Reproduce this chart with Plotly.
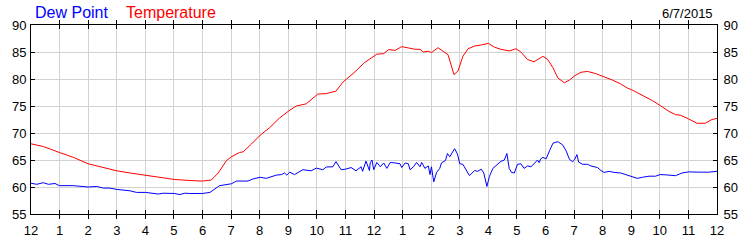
import plotly.graph_objects as go

# Hours after midnight, 6/7/2015
temp_hours = [0.00, 0.43, 0.99, 1.48, 2.00, 2.53, 3.00, 3.46, 4.01, 4.51, 5.01, 5.56, 6.00,
              6.31, 6.55, 6.84, 7.01, 7.30, 7.42, 7.71, 8.02, 8.35, 8.70, 9.02, 9.28, 9.63,
              10.03, 10.33, 10.67, 10.91, 11.00, 11.37, 11.66, 12.00, 12.10, 12.34, 12.51,
              12.74, 12.97, 13.20, 13.44, 13.61, 13.72, 13.90, 14.01, 14.24, 14.42, 14.59,
              14.71, 14.80, 14.94, 15.11, 15.29, 15.52, 15.75, 16.00, 16.21, 16.44, 16.73,
              16.97, 17.14, 17.37, 17.60, 17.91, 18.08, 18.26, 18.43, 18.66, 18.84, 19.01,
              19.24, 19.47, 19.76, 20.02, 20.34, 20.63, 20.87, 21.02, 21.33, 21.74, 22.01,
              22.32, 22.55, 22.72, 23.01, 23.30, 23.59, 23.82, 24.00]
temp_values = [68.0, 67.5, 66.4, 65.5, 64.3, 63.6, 63.0, 62.6, 62.2, 61.7, 61.4, 61.2, 61.1,
               61.3, 62.6, 64.9, 65.6, 66.4, 66.5, 67.95, 69.6, 71.0, 72.8, 74.1, 75.0, 75.4,
               77.2, 77.3, 77.75, 79.4, 79.8, 81.5, 83.0, 84.2, 84.6, 84.7, 85.45,
               85.3, 86.0, 85.75, 85.5, 85.5, 85.0, 85.15, 84.9, 85.8, 85.2, 84.5,
               82.4, 80.8, 81.5, 84.2, 85.6, 86.1, 86.3, 86.6, 85.9, 85.5, 85.2,
               85.6, 85.0, 83.6, 83.2, 84.2, 83.6, 82.1, 80.2, 79.3, 79.8, 80.55,
               81.25, 81.4, 81.0, 80.5, 79.8, 79.1, 78.3, 78.0, 77.2, 76.0, 75.1,
               74.0, 73.4, 73.3, 72.6, 71.8, 71.8, 72.5, 72.7]

dew_hours = [0.00, 0.20, 0.43, 0.61, 0.84, 0.99, 1.48, 1.71, 2.00, 2.30, 2.53, 2.76, 3.00,
             3.46, 3.69, 4.01, 4.45, 4.63, 5.01, 5.21, 5.38, 5.56, 6.00,
             6.26, 6.60, 6.90, 7.01, 7.19, 7.59, 7.77, 8.02, 8.23, 8.58, 8.76, 8.87, 8.95,
             9.05, 9.22, 9.51, 9.80, 9.98, 10.21, 10.33, 10.56, 10.67, 10.85, 11.00, 11.20,
             11.37, 11.55, 11.60, 11.72, 11.84, 11.87, 11.93, 11.99, 12.10, 12.22, 12.34,
             12.45, 12.57, 12.74, 12.91, 12.97, 13.09, 13.20, 13.26, 13.38, 13.49, 13.61,
             13.67, 13.78, 13.90, 13.96, 14.01, 14.09, 14.19, 14.30, 14.36, 14.50, 14.57,
             14.65, 14.71, 14.82, 14.92, 15.00, 15.11, 15.23, 15.34, 15.52, 15.63, 15.75,
             15.84, 15.95, 16.04, 16.16, 16.27, 16.44, 16.56, 16.65, 16.73, 16.81, 16.91,
             17.02, 17.14, 17.25, 17.37, 17.49, 17.60, 17.72, 17.78, 17.83, 17.91, 18.02,
             18.14, 18.26, 18.43, 18.60, 18.72, 18.84, 18.95, 19.01, 19.10, 19.16, 19.30,
             19.47, 19.59, 19.82, 19.94, 20.05, 20.23, 20.40, 20.63, 20.81, 21.02, 21.21,
             21.39, 21.62, 21.85, 22.01, 22.20, 22.55, 22.78, 23.01, 23.36, 23.71, 24.00]
dew_values = [60.7, 60.5, 60.8, 60.5, 60.65, 60.25, 60.25, 60.1, 60.0, 60.1, 59.8, 59.8, 59.55,
              59.3, 59.0, 59.0, 58.7, 58.85, 58.8, 58.6, 58.85, 58.8, 58.8,
              59.0, 60.25, 60.5, 60.6, 61.1, 61.1, 61.5, 61.8, 61.6, 62.2, 62.3, 62.6, 62.2,
              62.75, 62.3, 63.2, 63.0, 63.5, 63.2, 63.7, 63.75, 64.7, 63.2, 63.3, 63.6,
              63.0, 63.75, 62.9, 64.8, 63.05, 64.5, 65.0, 63.2, 64.55, 63.75, 64.45,
              63.45, 64.55, 64.45, 64.3, 63.6, 64.45, 64.3, 63.2, 63.75, 64.55, 63.75,
              64.55, 63.45, 63.9, 62.3, 63.75, 60.95, 62.7, 63.45, 64.45, 64.9, 66.2,
              65.6, 66.1, 67.1, 66.1, 64.3, 64.2, 63.2, 62.1, 63.05, 62.9, 63.3,
              62.6, 60.1, 62.0, 63.45, 63.9, 64.75, 65.0, 66.2, 63.45, 62.7, 62.6,
              64.2, 64.3, 63.45, 63.9, 63.75, 64.3, 65.0, 64.5, 65.2, 65.5, 65.2,
              66.7, 68.1, 68.4, 67.8, 66.7, 65.1, 64.7, 65.0, 66.0, 64.6, 64.2,
              64.2, 63.9, 63.6, 63.05, 62.7, 62.9, 62.7, 62.6, 62.3, 62.0, 61.6,
              61.8, 62.0, 62.0, 62.3, 62.25, 62.1, 62.6, 62.8, 62.75, 62.75, 62.9]

x_tickvals = list(range(0, 25))
x_ticktext = ["12", "1", "2", "3", "4", "5", "6", "7", "8", "9", "10", "11",
              "12", "1", "2", "3", "4", "5", "6", "7", "8", "9", "10", "11", "12"]
y_tickvals = [55, 60, 65, 70, 75, 80, 85, 90]
date_label = "6/7/2015"

FONT = "Liberation Sans, Arial, sans-serif"

fig = go.Figure()
fig.add_trace(go.Scatter(x=dew_hours, y=dew_values, mode="lines",
                         line=dict(color="#0000ff", width=1), name="Dew Point", yaxis="y2"))
fig.add_trace(go.Scatter(x=temp_hours, y=temp_values, mode="lines",
                         line=dict(color="#ff0000", width=1), name="Temperature"))

axis_common = dict(showline=True, linecolor="black", linewidth=1, ticks="inside",
                   ticklen=4, tickcolor="black", tickwidth=1,
                   tickfont=dict(family=FONT, size=13, color="black"), zeroline=False)

fig.update_layout(
    width=750, height=250,
    margin=dict(l=31, r=30, t=25, b=25),
    paper_bgcolor="white", plot_bgcolor="white",
    showlegend=False,
    xaxis=dict(range=[0, 24], tickvals=x_tickvals, ticktext=x_ticktext,
               showgrid=True, gridcolor="#d3d3d3", gridwidth=1, mirror="allticks",
               ticklabelstandoff=4, **axis_common),
    yaxis=dict(range=[55, 90], tickvals=y_tickvals, showgrid=True, gridcolor="#d3d3d3",
               gridwidth=1, mirror="allticks", ticklabelstandoff=1, **axis_common),
    yaxis2=dict(range=[55, 90], tickvals=y_tickvals, overlaying="y", side="right",
                showgrid=False, ticklabelstandoff=3, **axis_common),
)

# Position annotations in pixel terms
pw, ph = 750 - 31 - 30, 250 - 25 - 25
def px(x):
    return (x - 31) / pw
def py(y):
    return (225 - y) / ph

fig.layout.annotations = [
    dict(text="Dew Point", x=px(33), y=py(12), xref="paper", yref="paper", showarrow=False,
         xanchor="left", yanchor="middle", font=dict(family=FONT, size=16, color="#0000ff")),
    dict(text="Temperature", x=px(124), y=py(12), xref="paper", yref="paper", showarrow=False,
         xanchor="left", yanchor="middle", font=dict(family=FONT, size=16, color="#ff0000")),
    dict(text=date_label, x=px(718), y=py(13), xref="paper", yref="paper", showarrow=False,
         xanchor="right", yanchor="middle", font=dict(family=FONT, size=13, color="black")),
]

fig.write_html("out.html")
